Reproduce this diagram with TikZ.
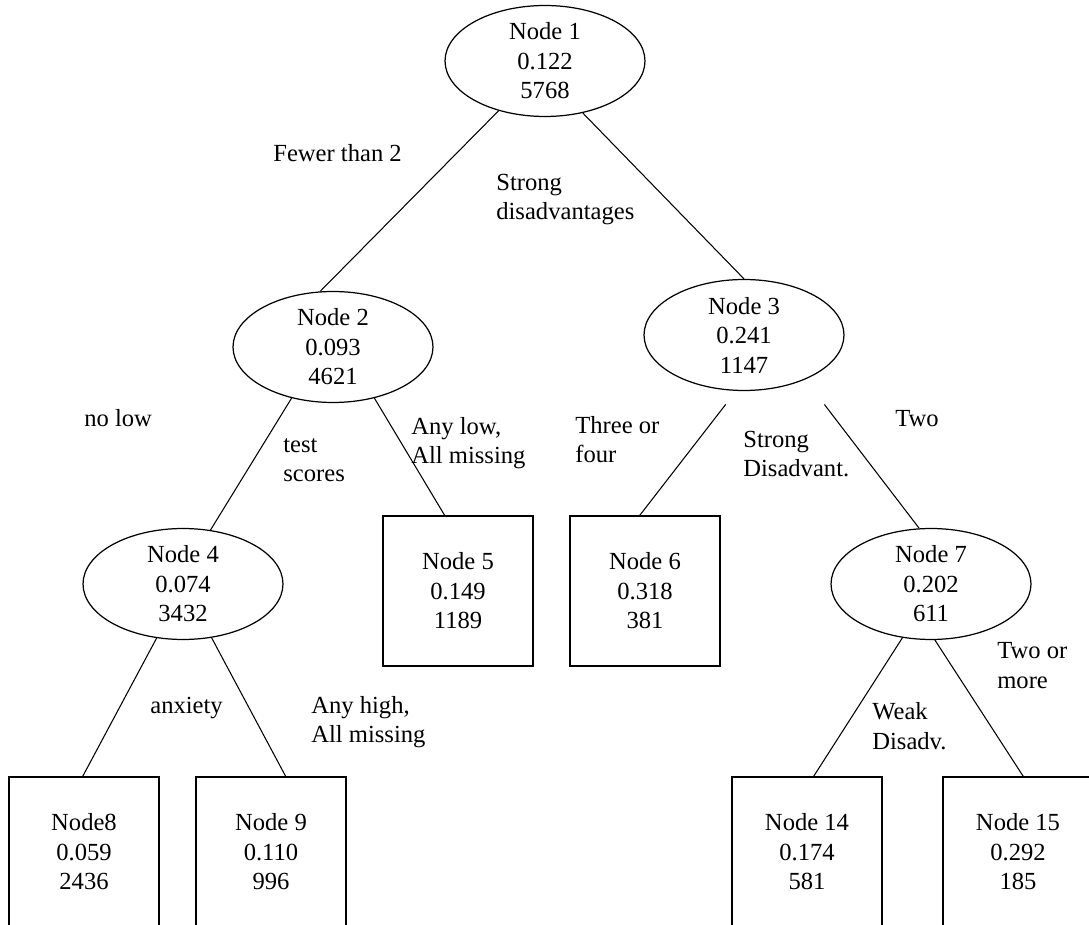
\documentclass[tikz,border=0pt]{standalone}
\usepackage{fontspec}
\setmainfont{Liberation Serif}
\usetikzlibrary{shapes.geometric}
\tikzstyle{split}=[draw, ellipse, line width=0.7pt, minimum width=4cm, minimum height=2.22cm, inner sep=0pt, align=center]
\tikzstyle{leaf}=[draw, rectangle, line width=0.7pt, minimum width=3cm, minimum height=3cm, inner sep=0pt, align=center]
\tikzstyle{cond}=[anchor=base west, inner sep=0pt, align=left]
\tikzstyle{edge}=[line width=0.6pt]

\begin{document}
\begin{tikzpicture}[x=0.02cm, y=-0.02cm, font=\fontsize{14}{16.8}\selectfont]
				\useasboundingbox (0,0) rectangle (1089,925);
				% splits
				\node[split] (n1) at (545,61) {Node 1\\0.122\\5768};
				\node[split] (n2) at (333,347) {Node 2\\0.093\\4621};
				\node[split] (n3) at (744,335) {Node 3\\0.241\\1147};
				\node[split] (n4) at (183,584) {Node 4\\0.074\\3432};
				\node[split] (n7) at (931,584) {Node 7\\0.202\\611};
				% leaves
				\node[leaf] (n5) at (458,591) {Node 5\\0.149\\1189};
				\node[leaf] (n6) at (645,591) {Node 6\\0.318\\381};
				\node[leaf] (n8) at (84,852) {Node8\\0.059\\2436};
				\node[leaf] (n9) at (271,852) {Node 9\\0.110\\996};
				\node[leaf] (n14) at (807,852) {Node 14\\0.174\\581};
				\node[leaf] (n15) at (1018,852) {Node 15\\0.292\\185};
				% branches
				\draw[edge] (n1.227) -- (n2.103);
				\draw[edge] (n1.306) -- (n3.north);
				\draw[edge] (n2.231) -- (n4.63);
				\draw[edge] (n2.309) -- (n5.100);
				\draw[edge, shorten <=0.34cm] (n3.262) -- (n6.94);
				\draw[edge, shorten <=0.63cm] (n3.324) -- (n7.102);
				\draw[edge] (n4.244) -- (n8.91);
				\draw[edge] (n4.298) -- (n9.79);
				\draw[edge] (n7.242) -- (n14.85);
				\draw[edge] (n7.274) -- (n15.86);
				% conditions (base = last line)
				\node[cond] (c1) at (273,162) {Fewer than 2};
				\node[cond] (c2) at (496,220) {Strong\\disadvantages};
				\node[cond] (c3) at (84,427) {no low};
				\node[cond] (c4) at (283,482) {test\\scores};
				\node[cond] (c5) at (411,464) {Any low,\\All missing};
				\node[cond] (c6) at (575,463) {Three or\\four};
				\node[cond] (c7) at (743,477) {Strong\\Disadvant.};
				\node[cond] (c8) at (895,427) {Two};
				\node[cond] (c9) at (150,713) {anxiety};
				\node[cond] (c10) at (311,743) {Any high,\\All missing};
				\node[cond] (c11) at (997,688) {Two or\\more};
				\node[cond] (c12) at (872,749) {Weak\\Disadv.};
			\end{tikzpicture}
\end{document}
